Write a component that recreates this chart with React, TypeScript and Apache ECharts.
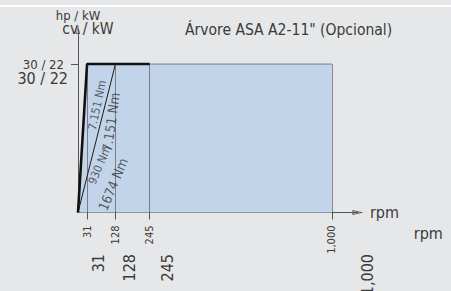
import React, { useEffect, useRef } from 'react';
import * as echarts from 'echarts';

// ---- data ----
const RPM_TICKS = [31, 128, 245, 1000];
const RPM_TICK_LABELS = ['31', '128', '245', '1,000'];
const POWER_TICKS = [30];
const POWER_TICK_LABELS = ['30 / 22'];
const AREA_RPM = [0, 31, 1000];
const AREA_HP = [0, 30, 30];
const ENVELOPE_RPM = [0, 31, 245];
const ENVELOPE_HP = [0, 30, 30];
const RAMP_RPM = [0, 128];
const RAMP_HP = [0, 30];
const GUIDE_RPM = [31, 128, 245, 1000];
const GUIDE_HP = [0, 30];
const NOTES_SMALL = ['7.151 Nm', '930 Nm'];
const NOTES_SMALL_RPM = [65, 73.5];
const NOTES_SMALL_HP = [21.7, 9.6];
const NOTES_SMALL_ROT = [78, 67];
const NOTES_LARGE = ['7.151 Nm', '1674 Nm'];
const NOTES_LARGE_RPM = [71, 77.5];
const NOTES_LARGE_HP = [21.6, 9.5];
const NOTES_LARGE_ROT = [82, 67];
const TITLE = 'Árvore ASA A2-11" (Opcional)';

// broken rpm scale: linear up to 245, compressed above
const BREAK = 245;
const COMPRESS = 0.825;
const toAxis = (r: number) => (r <= BREAK ? r : BREAK + (r - BREAK) * COMPRESS);
const T_MAX = 957;

const FONT = '"Liberation Sans Narrow", "DejaVu Sans Condensed", "Liberation Sans", sans-serif';
const TEXT = '#3a3a3a';
const AXIS = '#555';
const ARROW = 'path://M2.5,0L5,11L0,11Z M2.5,3L1.2,10L3.8,10Z';

const rpmLabel = (v: number) => {
  const i = RPM_TICKS.findIndex((r) => Math.abs(toAxis(r) - v) < 1e-6);
  return i >= 0 ? RPM_TICK_LABELS[i] : '';
};
const hpLabel = (v: number) => {
  const i = POWER_TICKS.findIndex((p) => Math.abs(p - v) < 1e-6);
  return i >= 0 ? POWER_TICK_LABELS[i] : '';
};

const pairs = (xs: number[], ys: number[]) => xs.map((x, i) => [toAxis(x), ys[i]]);

export default function App() {
  const ref = useRef<HTMLDivElement>(null);
  useEffect(() => {
    if (!ref.current) return;
    const chart = echarts.init(ref.current, undefined, { renderer: 'svg' });
    const tickVals = RPM_TICKS.map(toAxis);
    const option: any = {
      animation: false,
      backgroundColor: '#e6e7e8',
      textStyle: { fontFamily: FONT },
      title: {
        text: TITLE,
        left: 185,
        top: 22,
        padding: 0,
        textStyle: { fontFamily: FONT, fontSize: 15.5, fontWeight: 'normal', color: TEXT },
      },
      graphic: [
        { type: 'rect', shape: { x: 0, y: 5, width: 451, height: 2 }, style: { fill: '#ffffff' }, silent: true },
      ],
      grid: [
        { left: 78, top: 29.4, width: T_MAX * 0.2925, height: 183.1, outerBoundsMode: 'none', containLabel: false },
        { left: 88, top: 48, width: T_MAX * 0.3226, height: 185, outerBoundsMode: 'none', containLabel: false },
      ],
      xAxis: [
        {
          type: 'value', gridIndex: 0, min: 0, max: T_MAX,
          name: 'rpm', nameLocation: 'end', nameGap: 12,
          nameTextStyle: { fontFamily: FONT, fontSize: 16, color: TEXT },
          axisLine: { show: true, symbol: ['none', ARROW], symbolSize: [5.5, 11], lineStyle: { color: AXIS, width: 1 } },
          axisTick: { show: true, customValues: tickVals, length: 7, lineStyle: { color: AXIS } },
          axisLabel: { show: true, customValues: tickVals, rotate: 90, margin: 13, fontSize: 11, color: TEXT, fontFamily: FONT, formatter: rpmLabel },
          splitLine: { show: false },
        },
        {
          type: 'value', gridIndex: 1, min: 0, max: T_MAX,
          name: 'rpm', nameLocation: 'end', nameGap: 17,
          nameTextStyle: { fontFamily: FONT, fontSize: 16, color: TEXT },
          axisLine: { show: false },
          axisTick: { show: false },
          axisLabel: { show: true, customValues: tickVals, rotate: 90, margin: 21, fontSize: 16, color: TEXT, fontFamily: FONT, formatter: rpmLabel },
          splitLine: { show: false },
        },
      ],
      yAxis: [
        {
          type: 'value', gridIndex: 0, min: 0, max: 37,
          name: 'hp / kW', nameLocation: 'end', nameGap: 7,
          nameTextStyle: { fontFamily: FONT, fontSize: 13, color: TEXT, align: 'center' },
          axisLine: { show: true, symbol: ['none', ARROW], symbolSize: [5, 9], lineStyle: { color: AXIS, width: 1 } },
          axisTick: { show: true, customValues: POWER_TICKS, length: 7, lineStyle: { color: AXIS } },
          axisLabel: { show: true, customValues: POWER_TICKS, margin: 14, fontSize: 13, color: TEXT, fontFamily: FONT, formatter: hpLabel },
          splitLine: { show: false },
        },
        {
          type: 'value', gridIndex: 1, min: 0, max: 36,
          name: 'cv / kW', nameLocation: 'end', nameGap: 11,
          nameTextStyle: { fontFamily: FONT, fontSize: 15.5, color: TEXT, align: 'center' },
          axisLine: { show: false },
          axisTick: { show: false },
          axisLabel: { show: true, customValues: POWER_TICKS, margin: 20, fontSize: 16, color: TEXT, fontFamily: FONT, formatter: hpLabel },
          splitLine: { show: false },
        },
      ],
      series: [
        {
          type: 'line', xAxisIndex: 0, yAxisIndex: 0, silent: true,
          data: pairs(AREA_RPM, AREA_HP),
          symbol: 'none',
          lineStyle: { color: '#7d7f82', width: 1 },
          areaStyle: { color: '#c2d4ea', opacity: 1 },
          markLine: {
            silent: true, symbol: ['none', 'none'], label: { show: false },
            lineStyle: { type: 'dotted', color: '#2a2a2a', width: 1 },
            data: GUIDE_RPM.map((r) => [
              { coord: [toAxis(r), GUIDE_HP[0]] },
              { coord: [toAxis(r), GUIDE_HP[1]] },
            ]),
          },
          z: 1,
        },
        {
          type: 'line', xAxisIndex: 0, yAxisIndex: 0, silent: true,
          data: pairs(RAMP_RPM, RAMP_HP), symbol: 'none',
          lineStyle: { color: '#1a1a1a', width: 1 }, z: 3,
        },
        {
          type: 'line', xAxisIndex: 0, yAxisIndex: 0, silent: true,
          data: pairs(ENVELOPE_RPM, ENVELOPE_HP), symbol: 'none',
          lineStyle: { color: '#111', width: 2.6 }, z: 4,
        },
        {
          type: 'scatter', xAxisIndex: 0, yAxisIndex: 0, silent: true, symbolSize: 1,
          itemStyle: { color: 'transparent' }, z: 5,
          data: NOTES_SMALL.map((t, i) => ({
            value: [toAxis(NOTES_SMALL_RPM[i]), NOTES_SMALL_HP[i]],
            label: { show: true, position: 'inside', formatter: t, rotate: NOTES_SMALL_ROT[i], fontSize: 11.5, color: TEXT, fontFamily: FONT },
          })),
        },
        {
          type: 'scatter', xAxisIndex: 1, yAxisIndex: 1, silent: true, symbolSize: 1,
          itemStyle: { color: 'transparent' }, z: 5,
          data: NOTES_LARGE.map((t, i) => ({
            value: [toAxis(NOTES_LARGE_RPM[i]), NOTES_LARGE_HP[i]],
            label: { show: true, position: 'inside', formatter: t, rotate: NOTES_LARGE_ROT[i], fontSize: 13.5, color: TEXT, fontFamily: FONT },
          })),
        },
      ],
    };
    chart.setOption(option);
    return () => chart.dispose();
  }, []);
  return (
    <div
      ref={ref}
      style={{ position: 'fixed', left: 0, top: 0, width: 451, height: 291 }}
    />
  );
}
